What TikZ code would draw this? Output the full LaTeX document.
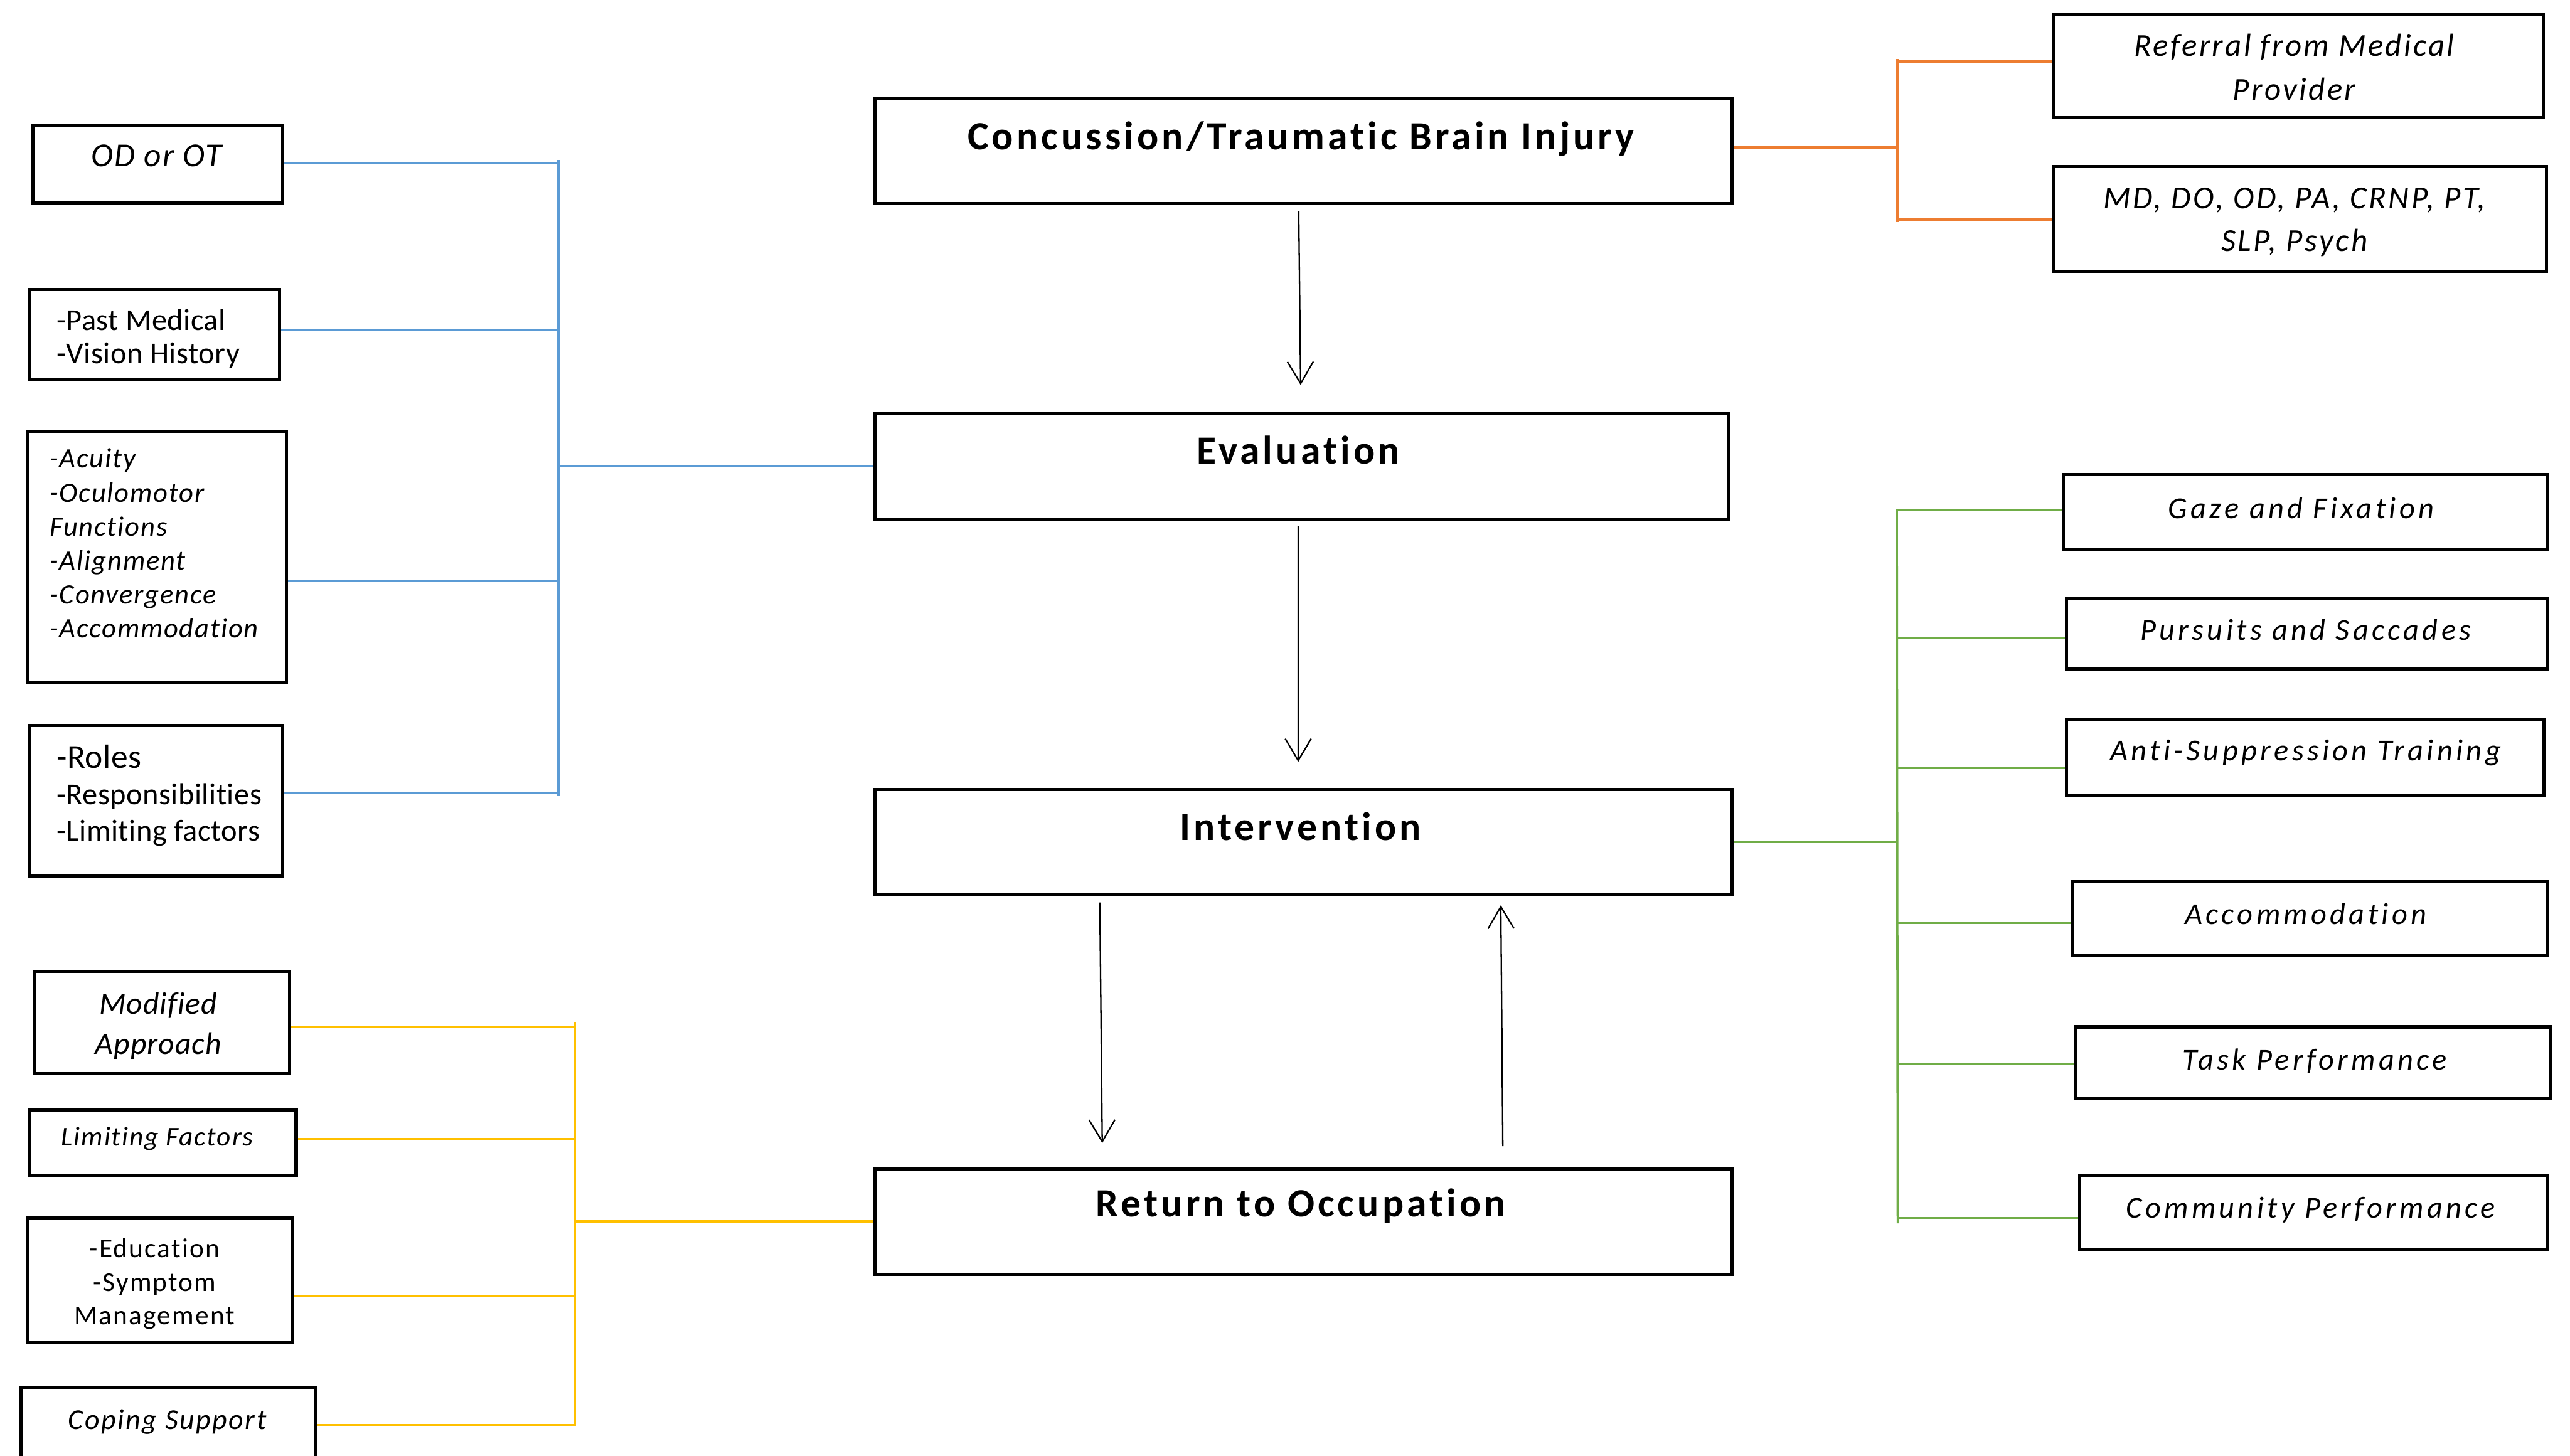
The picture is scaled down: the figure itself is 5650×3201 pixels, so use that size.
\documentclass[tikz,border=0pt]{standalone}
\usepackage{fontspec}
\setmainfont{Carlito}[Ligatures={NoCommon}]
\usetikzlibrary{arrows.meta,fit}
\definecolor{cblue}{HTML}{5B9BD5}
\definecolor{corange}{HTML}{ED7D31}
\definecolor{cyellow}{HTML}{FFC000}
\definecolor{cgreen}{HTML}{70AD47}
\newcommand\lines[2]{\begin{tabular}[t]{@{}#1@{}}#2\end{tabular}}
\newcommand\fs[2]{\fontsize{#1}{#2}\selectfont}
\newcommand\ls[1]{\addfontfeature{LetterSpace=#1}}
\begin{document}
\begin{tikzpicture}[x=0.01cm,y=-0.01cm,
  box/.style={draw=black,line width=2pt,inner sep=0pt},
  mainlbl/.style={font=\fs{25}{30}\bfseries\ls{8}},
  txt/.style={inner sep=0pt,anchor=base},
  ltxt/.style={inner sep=0pt,anchor=base west},
  arr/.style={line width=0.9pt,-{Straight Barb[length=0.48cm,width=0.57cm]}},
  blu/.style={draw=cblue,line width=1.5pt},
  ora/.style={draw=corange,line width=2pt},
  yel/.style={draw=cyellow,line width=1.4pt},
  grn/.style={draw=cgreen,line width=1.4pt},
  gtxt/.style={txt,font=\fs{19}{22}\itshape\ls{11}}]
\useasboundingbox (0,0) rectangle (5650,3201);
\clip (0,0) rectangle (5650,3201);

% main boxes
\node[box,fit={(1923,216) (3808,448)}] (conc) {};
\node[box,fit={(1923,909) (3801,1142)}] (eval) {};
\node[box,fit={(1923,1736) (3808,1968)}] (inter) {};
\node[box,fit={(1923,2570) (3808,2802)}] (ret) {};
\node[txt,mainlbl] (conc-t) at (2860,329) {Concussion/Traumatic Brain Injury};
\node[txt,mainlbl] (eval-t) at (2854,1020) {Evaluation};
\node[txt,mainlbl] (inter-t) at (2859,1848) {Intervention};
\node[txt,mainlbl] (ret-t) at (2860,2676) {Return to Occupation};

% main arrows
\draw[arr,shorten <=0.13cm,shorten >=0.59cm] ([xshift=-0.105cm]conc.south) -- ([xshift=-0.02cm]eval.north);
\draw[arr,shorten <=0.11cm,shorten >=0.57cm] ([xshift=-0.08cm]eval.south) -- ([xshift=-0.115cm]inter.north);
\draw[arr,shorten <=0.13cm,shorten >=0.53cm] ([xshift=-4.475cm]inter.south) -- ([xshift=-4.415cm]ret.north);
\draw[arr,shorten <=0.46cm,shorten >=0.19cm] ([xshift=4.385cm]ret.north) -- ([xshift=4.335cm]inter.south);

% blue group
\node[box,fit={(73,277) (622,447)}] (odot) {};
\node[box,fit={(66,636) (615,834)}] (pmed) {};
\node[box,fit={(60,950) (630,1500)}] (acu) {};
\node[box,fit={(66,1595) (622,1926)}] (roles) {};
\node[txt,font=\fs{21}{26}\itshape\ls{4}] (odot-t) at (344,366) {OD or OT};
\node[ltxt,font=\fs{19}{20.8}\ls{1}] (pmed-t) at (124,726) {\lines{l}{-Past Medical\\-Vision History}};
\node[ltxt,font=\fs{17.5}{21.2}\itshape\ls{4}] (acu-t) at (109,1029) {\lines{l}{-Acuity\\-Oculomotor\\Functions\\-Alignment\\-Convergence\\-Accommodation}};
\node[ltxt,font=\fs{19}{22.8}\ls{1}] (roles-t) at (124,1689) {\lines{l}{{\fs{21}{22.8}-Roles}\\-Responsibilities\\-Limiting factors}};
\coordinate (bbt) at (1228,352);
\coordinate (bbb) at (1228,1750);
\coordinate (bb1) at (1228,358);
\coordinate (bb2) at (1228,726);
\coordinate (bb3) at (1228,1278);
\coordinate (bb4) at (1228,1743);
\draw[blu] (bbt) -- (bbb);
\draw[blu] (odot.east |- bb1) -- (bb1);
\draw[blu] (pmed.east |- bb2) -- (bb2);
\draw[blu] (acu.east |- bb3) -- (bb3);
\draw[blu] (roles.east |- bb4) -- (bb4);
\draw[blu] (eval.west -| bbt) -- (eval.west);

% yellow group
\node[box,fit={(75,2136) (636,2361)}] (mod) {};
\node[box,fit={(66,2441) (651,2585)}] (lim) {};
\node[box,fit={(60,2678) (643,2951)}] (edu) {};
\node[box,fit={(46,3051) (694,3260)}] (cop) {};
\node[txt,font=\fs{19.5}{25}\itshape\ls{2}] (mod-t) at (348,2230) {\lines{c}{Modified\\Approach}};
\node[txt,font=\fs{17}{20}\itshape\ls{4.5}] (lim-t) at (346,2519) {Limiting Factors};
\node[txt,font=\fs{17}{21}\ls{5}] (edu-t) at (340,2765) {\lines{c}{-Education\\-Symptom\\Management}};
\node[txt,font=\fs{18}{22}\itshape\ls{5.5}] (cop-t) at (368,3143) {Coping Support};
\coordinate (ybt) at (1264,2247);
\coordinate (ybb) at (1264,3135);
\coordinate (yb1) at (1264,2259);
\coordinate (yb2) at (1264,2505);
\coordinate (yb3) at (1264,2849);
\coordinate (yb4) at (1264,3133);
\draw[yel] (ybt) -- (ybb);
\draw[yel] (mod.east |- yb1) -- (yb1);
\draw[yel] (lim.east |- yb2) -- (yb2);
\draw[yel] (edu.east |- yb3) -- (yb3);
\draw[yel] (cop.east |- yb4) -- (yb4);
\draw[yel] (ret.west -| ybt) -- (ret.west);

% orange group
\node[box,fit={(4515,33) (5591,259)}] (ref) {};
\node[box,fit={(4515,366) (5598,597)}] (md) {};
\node[txt,font=\fs{20}{27.3}\itshape\ls{6.5}] (ref-t) at (5044,124) {\lines{c}{Referral from Medical\\Provider}};
\node[txt,font=\fs{20}{27}\itshape\ls{7}] (md-t) at (5044,458) {\lines{c}{MD, DO, OD, PA, CRNP, PT,\\SLP, Psych}};
\coordinate (obt) at (4172,130);
\coordinate (obb) at (4172,488);
\coordinate (ob0) at (4172,325);
\coordinate (ob1) at (4172,135);
\coordinate (ob2) at (4172,484);
\draw[ora] (obt) -- (obb);
\draw[ora] (ob1) -- (ref.west |- ob1);
\draw[ora] (ob2) -- (md.west |- ob2);
\draw[ora] (conc.east |- ob0) -- (ob0);

% green group
\node[box,fit={(4536,1044) (5600,1208)}] (gaze) {};
\node[box,fit={(4543,1316) (5600,1471)}] (purs) {};
\node[box,fit={(4543,1581) (5593,1750)}] (anti) {};
\node[box,fit={(4557,1939) (5600,2102)}] (acc) {};
\node[box,fit={(4564,2258) (5607,2414)}] (task) {};
\node[box,fit={(4572,2584) (5600,2747)}] (comm) {};
\node[gtxt] (gaze-t) at (5059,1140) {Gaze and Fixation};
\node[gtxt] (purs-t) at (5069,1408) {Pursuits and Saccades};
\node[gtxt] (anti-t) at (5069,1672) {Anti-Suppression Training};
\node[gtxt] (acc-t) at (5069,2033) {Accommodation};
\node[gtxt] (task-t) at (5089,2352) {Task Performance};
\node[gtxt] (comm-t) at (5080,2678) {Community Performance};
\coordinate (gbt) at (4170,1119);
\coordinate (gbb) at (4172,2690);
\coordinate (gb1) at (4170,1121);
\coordinate (gb2) at (4170,1403);
\coordinate (gb3) at (4170,1689);
\coordinate (gb4) at (4170,2030);
\coordinate (gb5) at (4172,2340);
\coordinate (gb6) at (4172,2678);
\draw[grn] (gbt) -- (gbb);
\draw[grn] (gb1) -- (gaze.west |- gb1);
\draw[grn] (gb2) -- (purs.west |- gb2);
\draw[grn] (gb3) -- (anti.west |- gb3);
\draw[grn] (gb4) -- (acc.west |- gb4);
\draw[grn] (gb5) -- (task.west |- gb5);
\draw[grn] (gb6) -- (comm.west |- gb6);
\draw[grn] (inter.east) -- (inter.east -| gbt);
\end{tikzpicture}
\end{document}
